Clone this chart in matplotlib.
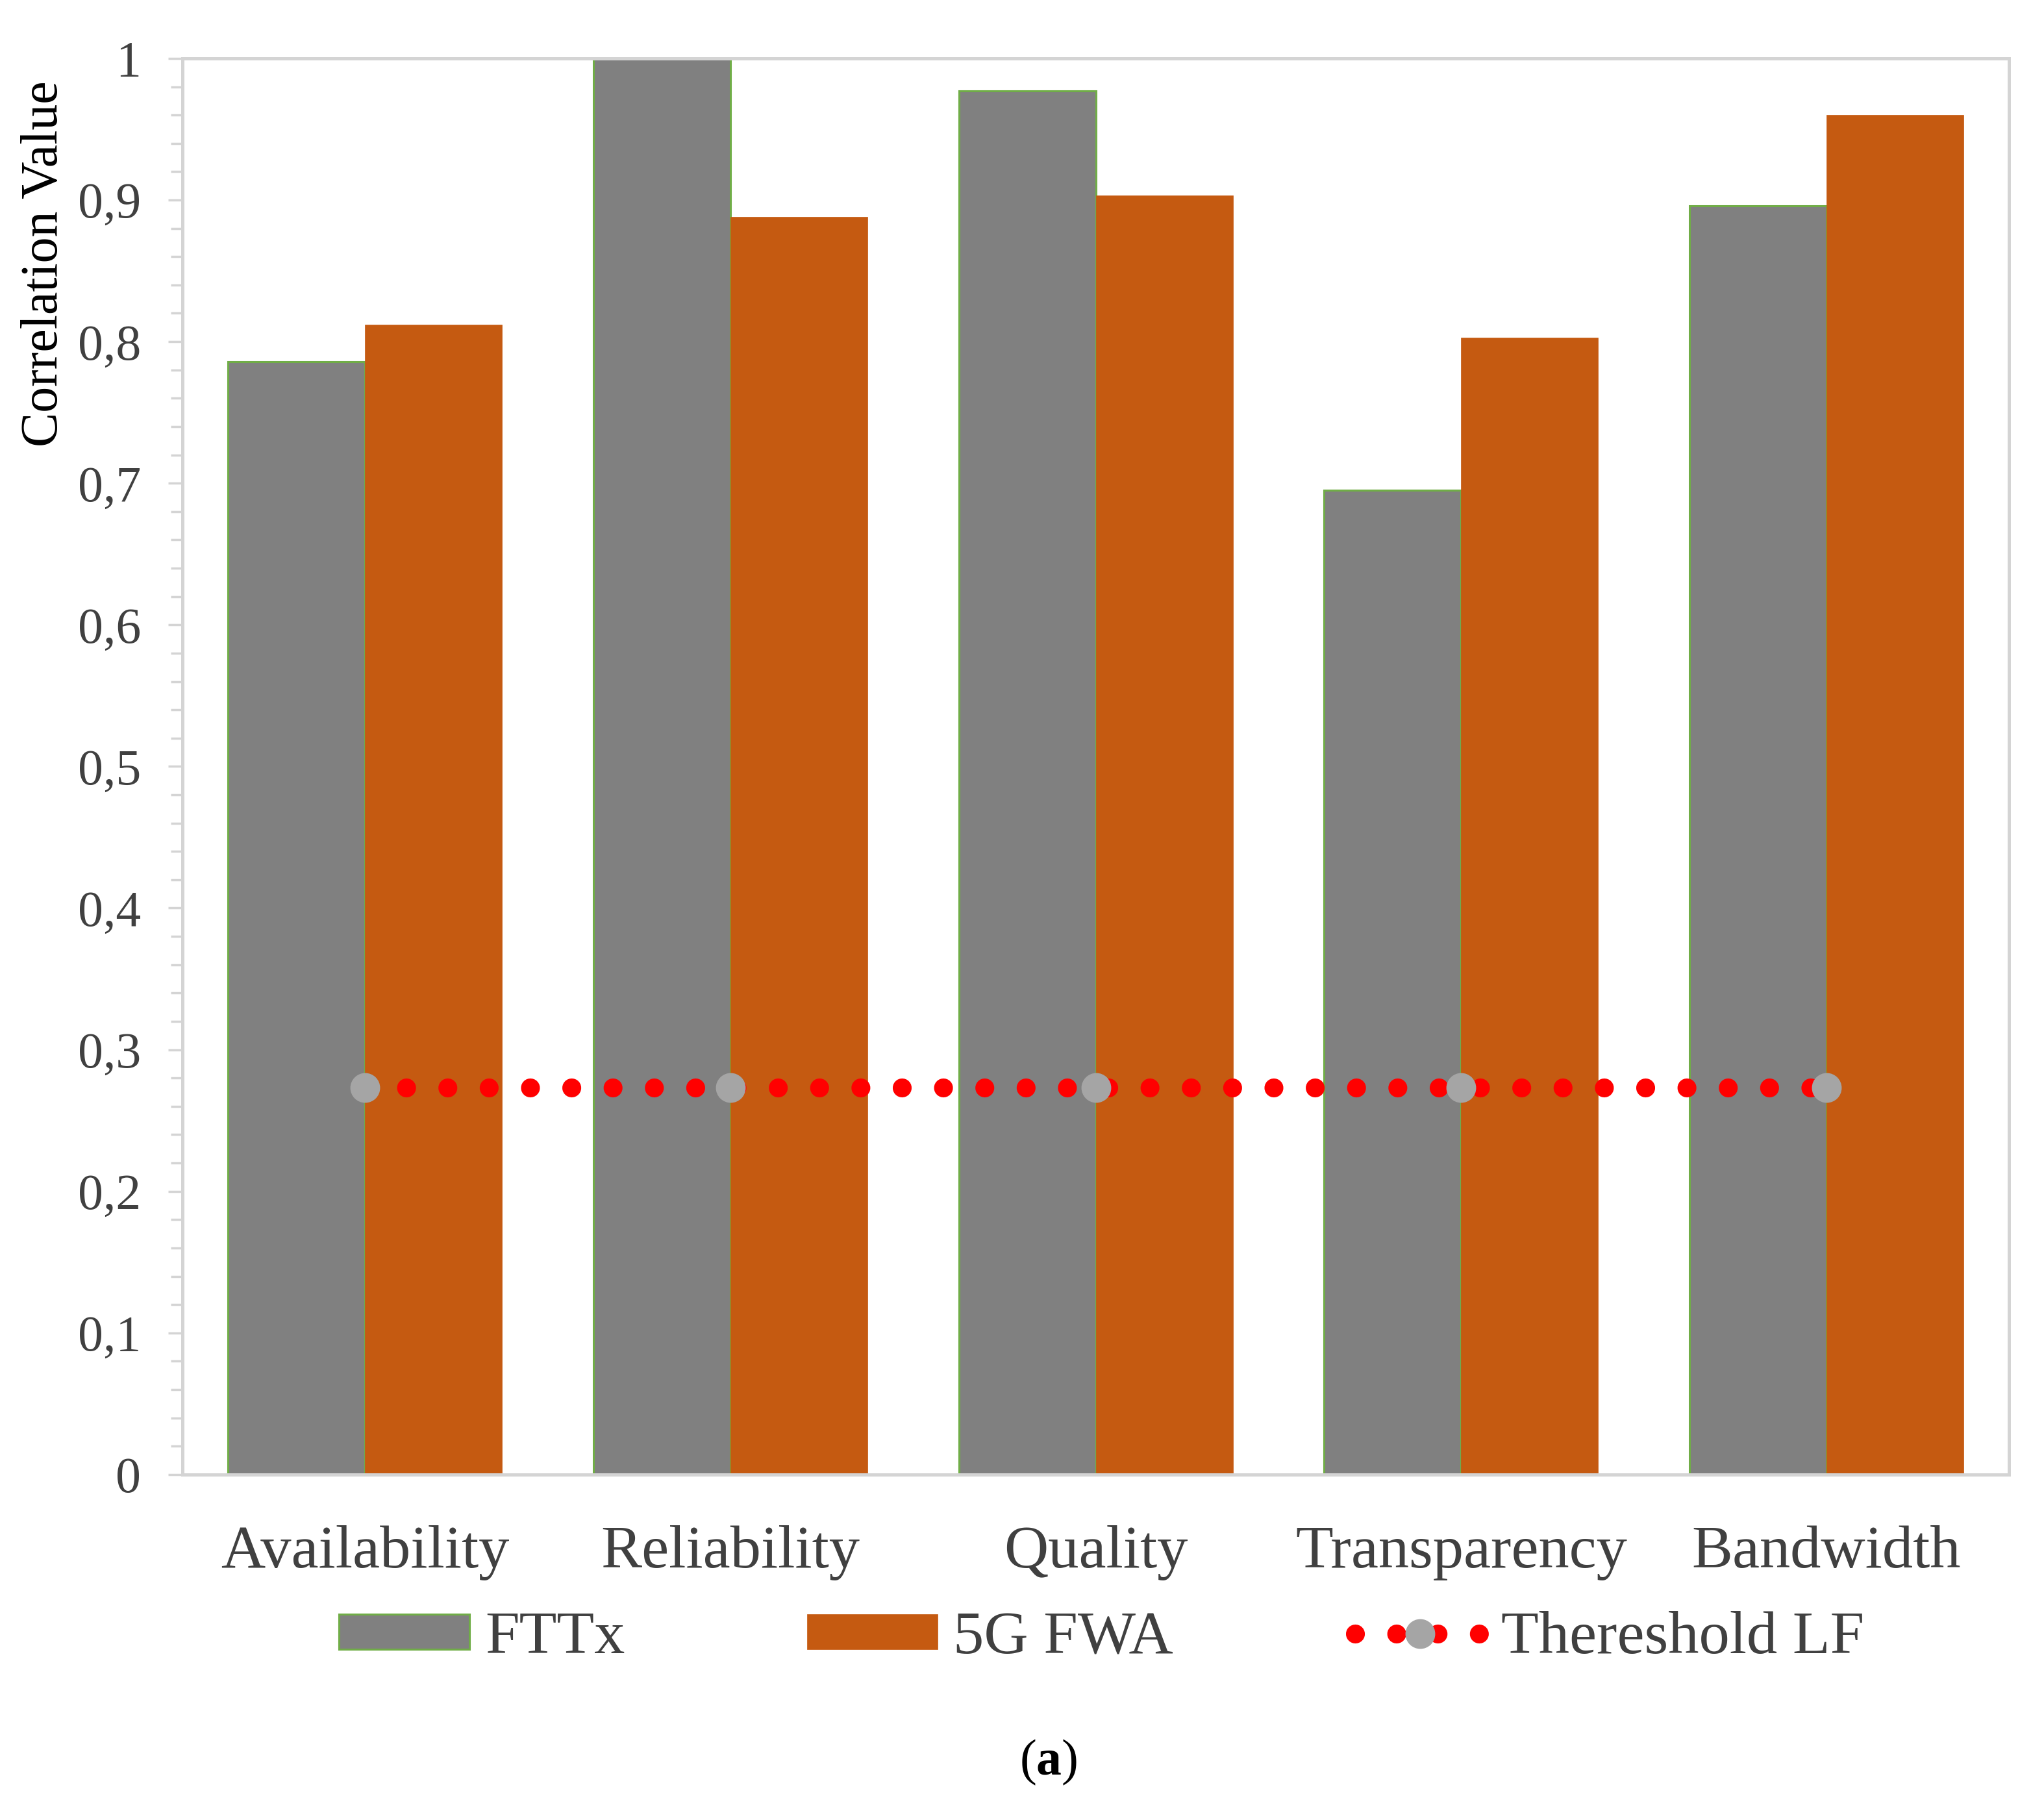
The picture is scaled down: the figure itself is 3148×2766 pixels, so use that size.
import matplotlib
matplotlib.use("Agg")
import matplotlib.pyplot as plt
import numpy as np
from matplotlib.ticker import MultipleLocator, FuncFormatter

categories = ["Availability", "Reliability", "Quality", "Transparency", "Bandwidth"]
fttx = [0.786, 1.0, 0.977, 0.695, 0.896]
fwa = [0.812, 0.888, 0.903, 0.803, 0.960]
threshold = [0.273, 0.273, 0.273, 0.273, 0.273]
series_names = ["FTTx", "5G FWA", "Thereshold LF"]

plt.rcParams['font.family'] = ['Liberation Serif', 'DejaVu Serif']
plt.rcParams['mathtext.fontset'] = 'custom'
plt.rcParams['mathtext.rm'] = 'Liberation Serif'
plt.rcParams['mathtext.bf'] = 'Liberation Serif:bold'

fig = plt.figure(figsize=(31.48, 27.66), dpi=100)
ax = fig.add_axes([0.0893, 0.179, 0.9829 - 0.0893, 0.9675 - 0.179])

x = np.arange(len(categories))
w = 0.375
h1 = ax.bar(x - w / 2, fttx, width=w, color="#808080", edgecolor="#70ad47",
            linewidth=2.2, label=series_names[0], zorder=2)
h2 = ax.bar(x + w / 2, fwa, width=w, color="#c55a11", edgecolor="#c55a11",
            linewidth=0.5, label=series_names[1], zorder=2)
h3, = ax.plot(x, threshold, color="#ff0000", linewidth=21, linestyle=(0, (0.001, 2.18)),
              dash_capstyle="round", marker="o", markersize=32, markerfacecolor="#a5a5a5",
              markeredgecolor="#a5a5a5", label=series_names[2], zorder=3)

ax.set_xlim(-0.5, len(categories) - 0.5)
ax.set_ylim(0, 1)
ax.yaxis.set_major_locator(MultipleLocator(0.1))
ax.yaxis.set_minor_locator(MultipleLocator(0.02))
ax.yaxis.set_major_formatter(FuncFormatter(lambda v, p: ("%g" % round(v, 1)).replace(".", ",")))
ax.set_xticks(x)
ax.set_xticklabels(categories)

spine_col = "#d4d4d4"
for s in ax.spines.values():
    s.set_color(spine_col)
    s.set_linewidth(3.6)

ax.tick_params(axis="y", which="major", length=16, width=2.5, color=spine_col,
               labelsize=56, labelcolor="#404040", pad=30, direction="out")
ax.tick_params(axis="y", which="minor", length=13, width=2.5, color=spine_col, direction="out")
ax.tick_params(axis="x", which="both", length=0, labelsize=68, labelcolor="#404040", pad=56)

ax.set_ylabel("Correlation Value", fontsize=57.5, color="black")
ax.yaxis.set_label_coords(-0.0625, 0.855)

leg = fig.legend([h1, h2, h3], series_names, loc="center", bbox_to_anchor=(0.539, 0.0875), ncol=3,
                 frameon=False, fontsize=68, handlelength=2.13, handleheight=0.51,
                 handletextpad=0.26, columnspacing=2.96, numpoints=1)
for t in leg.get_texts():
    t.set_color("#404040")

fig.text(0.513, 0.005, r"($\mathbf{a}$)", fontsize=56, ha="center", va="bottom", color="black")

fig.savefig("out.png", dpi=100, facecolor="white")
